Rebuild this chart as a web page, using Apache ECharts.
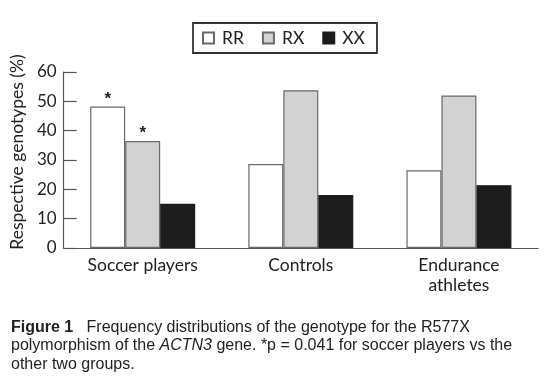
<!DOCTYPE html>
<html><head><meta charset="utf-8">
<script src="https://cdn.jsdelivr.net/npm/echarts@6/dist/echarts.min.js"></script>
<style>html,body{margin:0;padding:0;background:#fff}#c{width:550px;height:377px}</style>
</head><body><div id="c"></div>
<script>
const categories = ['Soccer players', 'Controls', 'Endurance\nathletes'];
const seriesNames = ['RR', 'RX', 'XX'];
const rrValues = [48.2, 28.6, 26.5];
const rxValues = [36.5, 53.8, 52.0];
const xxValues = [15.1, 18.1, 21.4];
const starred = { RR: [0], RX: [0] };
const yTicks = { min: 0, max: 60, interval: 10 };

const chart = echarts.init(document.getElementById('c'), null, { renderer: 'canvas' });
const FONT = 'Lato';
const CAP = '"Liberation Sans Narrow", "Liberation Sans", sans-serif';
const fills = { RR: '#ffffff', RX: '#d2d2d2', XX: '#1c1c1c' };
const borders = { RR: '#6a6a6a', RX: '#6a6a6a', XX: '#1c1c1c' };
const vals = { RR: rrValues, RX: rxValues, XX: xxValues };

function mkSeries(name) {
  return {
    name: name, type: 'bar', barWidth: 35, barGap: '0%',
    itemStyle: { color: fills[name], borderColor: borders[name], borderWidth: 1.2 },
    data: vals[name].map((v, i) => {
      const item = { value: v };
      if ((starred[name] || []).includes(i)) {
        item.label = { show: true, position: 'top', distance: -1, formatter: '*', fontSize: 17, fontWeight: 'bold', color: '#222', fontFamily: 'Liberation Sans' };
      }
      return item;
    })
  };
}

chart.setOption({
  backgroundColor: '#ffffff',
  animation: false,
  legend: {
    data: seriesNames, left: 193, top: 23, icon: 'rect', itemWidth: 11, itemHeight: 11,
    itemGap: 18, padding: [6, 12, 6, 9], borderColor: '#333', borderWidth: 1.8,
    textStyle: { fontFamily: FONT, fontSize: 17.5, color: '#222', padding: [0, 0, 0, 3] }
  },
  grid: { left: 62, right: 12, top: 72, bottom: 129 },
  xAxis: {
    type: 'category', data: categories,
    axisLine: { lineStyle: { color: '#555', width: 1.2 } },
    axisTick: { show: false },
    axisLabel: { fontFamily: FONT, fontSize: 17.5, color: '#222', margin: 7, lineHeight: 20 }
  },
  yAxis: {
    type: 'value', min: yTicks.min, max: yTicks.max, interval: yTicks.interval,
    name: 'Respective genotypes (%)', nameLocation: 'middle', nameGap: 36, nameRotate: 90,
    nameTextStyle: { fontFamily: FONT, fontSize: 17.5, color: '#222', padding: [0, 0, 0, 16] },
    axisLine: { show: true, lineStyle: { color: '#555', width: 1.2 } },
    axisTick: { show: true, inside: true, length: 13, lineStyle: { color: '#555', width: 1.2 } },
    splitLine: { show: false },
    axisLabel: { fontFamily: FONT, fontSize: 17, color: '#222', margin: 7 }
  },
  graphic: [
    {
      type: 'text', left: 11, top: 318,
      style: {
        text: '{b|Figure 1}   Frequency distributions of the genotype for the R577X\npolymorphism of the {i|ACTN3} gene. *p = 0.041 for soccer players vs the\nother two groups.',
        font: '16px ' + CAP,
        fill: '#222', lineHeight: 18.5,
        rich: {
          b: { fontWeight: 'bold', fontFamily: CAP, fontSize: 16, fill: '#222', lineHeight: 18.5 },
          i: { fontStyle: 'italic', fontFamily: CAP, fontSize: 16, fill: '#222', lineHeight: 18.5 }
        }
      }
    }
  ],
  series: seriesNames.map(mkSeries)
});
</script></body></html>
